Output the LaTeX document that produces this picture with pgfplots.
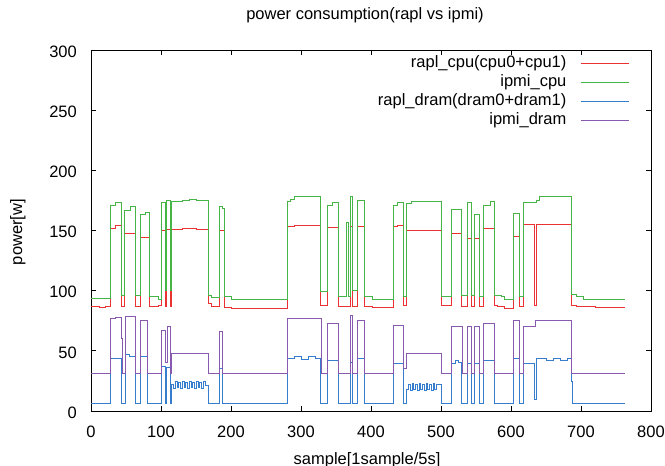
\documentclass[border=0pt]{standalone}
\usepackage{fontspec}
\setmainfont{Liberation Sans}
\usepackage{pgfplots}
\pgfplotsset{compat=1.18}
\definecolor{cred}{RGB}{235,50,50}
\definecolor{cgreen}{RGB}{70,180,70}
\definecolor{cblue}{RGB}{55,125,205}
\definecolor{cpurple}{RGB}{135,90,175}
\begin{document}
\fontsize{16.5bp}{20bp}\selectfont
\begin{tikzpicture}
\useasboundingbox (-91bp,-55bp) rectangle (574bp,411bp);
\begin{axis}[
  anchor=south west, at={(0,0)},
  scale only axis, width=560bp, height=361bp,
  xmin=0, xmax=800, ymin=0, ymax=300,
  xtick={0,100,...,800}, ytick={0,50,...,300},
  tick align=inside, major tick length=5bp,
  xtick pos=both, ytick pos=both,
  xticklabel pos=lower, yticklabel pos=left,
  /pgf/number format/assume math mode=true,
  xticklabel style={anchor=base, inner sep=0pt, yshift=-26.5bp},
  yticklabel style={anchor=east, inner sep=0pt, xshift=-14bp, yshift=-1.5bp},
  title={power consumption(rapl vs ipmi)},
  title style={at={(axis description cs:0.4893,1)}, anchor=base, inner sep=0pt, yshift=24.5bp},
  xlabel={sample[1sample/5s]},
  xlabel style={at={(axis description cs:0.4929,0)}, anchor=base, inner sep=0pt, yshift=-53bp},
  ylabel={power[w]},
  ylabel style={at={(axis description cs:-0.1304,0.4958)}, anchor=center, inner sep=0pt},
  axis line style={black, line width=0.8bp},
  every tick/.style={black, line width=0.8bp},
  legend plot pos=right,
  legend cell align=right,
  legend image code/.code={\path (0bp,0bp); \draw[#1, line width=1bp] (14bp,0bp) -- (62bp,0bp);},
  legend style={draw=none, fill=none, inner sep=0pt, outer sep=0pt,
    at={(axis description cs:0.9613,0.9853)}, anchor=north east,
    nodes={inner sep=0pt, text height=12bp, text depth=4bp},
    row sep=3bp},
  const plot,
  every axis plot/.append style={line width=0.8bp},
]
\addplot[cred] coordinates {
(0,86.7) (12,86) (20,87) (28,151.8) (35,154.6) (43,86.7) (48,148) (64,86.7) (70,144) (83,86.7) (96,87.5)
(100,150.4) (106,86.7) (108,151) (113,86.7) (115,150.5) (130,151.5) (150,151) (168,89.5) (172,87.3)
(184,150.4) (191,86.2) (200,85.3) (280,153.2) (290,154.6) (328,88) (337,152.3) (354,86.7) (370,153)
(374,86.7) (380,153) (390,86.7) (402,86) (432,153.2) (437,154.6) (446,88) (451,150.4) (500,88)
(515,147.6) (529,86.7) (538,143.5) (543,86.7) (547,143.5) (555,86.7) (560,151.8) (576,88) (581,86.7)
(590,85.3) (603,144.9) (612,86.7) (617,155) (633,88) (636,155) (686,88) (693,86.7) (720,86) (763,86)
};
\addlegendentry{rapl\_cpu(cpu0+cpu1)}
\addplot[cgreen] coordinates {
(0,93.5) (28,171) (35,173) (43,96) (48,167) (56,170) (64,96) (70,163) (78,165) (83,95.5) (96,93)
(100,173) (106,100) (108,175) (113,100) (115,174.5) (130,175) (140,176) (150,175) (168,96.4) (172,94.5)
(184,170) (188,168) (191,95) (200,93) (280,174) (285,175.5) (290,178) (328,99) (337,171) (345,173)
(354,95.6) (365,157) (367,95.6) (370,178) (374,100) (380,175.3) (390,95.6) (402,93) (432,171) (437,173)
(446,95) (451,172.5) (458,174) (500,95) (515,167.6) (529,96) (538,173) (543,96) (547,163.7) (555,95)
(560,171) (570,174) (576,96.4) (586,95) (590,93) (603,164) (612,95) (617,173) (636,175) (640,178)
(686,97) (693,95.6) (704,93) (763,93)
};
\addlegendentry{ipmi\_cpu}
\addplot[cblue] coordinates {
(0,6.4) (28,43.8) (43,6.4) (49,47.4) (55,45.5) (64,6.4) (71,45) (81,6.4) (100,36.8) (106,6.4) (108,36)
(113,6.4) (115,22) (118,19) (120,25) (123,20) (125,24) (128,19) (130,25) (133,20) (135,24) (138,19)
(140,25) (143,20) (145,24) (148,19) (150,25) (153,20) (155,24) (158,19) (160,25) (163,21) (168,6.4)
(184,35.5) (188,6.4) (280,43.8) (290,45) (300,43) (310,45)
(320,43.5) (328,6.4) (337,42.4) (354,6.4) (370,40) (374,6.4) (380,43.8) (390,6.4) (432,39.6) (446,6.4)
(451,18) (454,22) (456,17) (459,23) (461,18) (464,22) (466,17) (469,23) (471,18) (474,22) (476,17)
(479,23) (481,18) (484,22) (486,17) (489,23) (491,18) (494,22) (500,6.4) (515,39.6) (520,42) (525,40)
(529,6.4) (538,39.6) (543,6.4) (547,39.6) (555,6.4)
(560,42.4) (576,6.4) (603,43.8) (612,6.4) (617,39.6) (633,10) (636,43.8) (650,42) (660,44) (670,42)
(680,44) (686,24.4) (688,6.4) (763,6.4)
};
\addlegendentry{rapl\_dram(dram0+dram1)}
\addplot[cpurple] coordinates {
(0,31.3) (28,77) (35,78) (43,60) (45,31.3) (49,79) (64,31.3) (71,75.6) (81,31.3) (100,67.3) (107,40)
(109,70) (113,31.3) (115,48) (168,31.3) (184,66) (188,31.3) (281,77) (329,31.3) (337,72.9) (354,31.3)
(370,79.8) (374,31.3) (380,75.6) (390,31.3) (432,71.5) (446,35) (451,48) (500,31.3) (515,70.6)
(530,31.3) (538,70.6) (543,31.3) (547,70) (555,31.3) (560,72.9) (576,31.3) (603,75.6) (612,31.3)
(617,70.6) (635,75) (686,31.3) (763,31.3)
};
\addlegendentry{ipmi\_dram}
\end{axis}
\end{tikzpicture}
\end{document}
